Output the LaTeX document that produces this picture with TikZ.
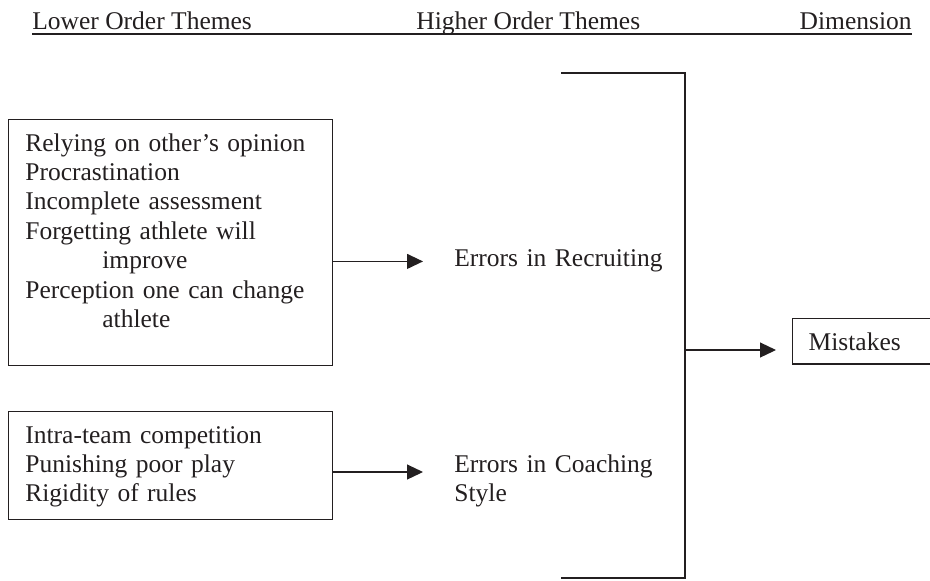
\documentclass[tikz,border=0pt]{standalone}
\usepackage{fontspec}
\setmainfont{Liberation Serif}
\usetikzlibrary{arrows.meta,positioning,calc}
\definecolor{ink}{HTML}{231F20}

\begin{document}
\begin{tikzpicture}[x=0.5pt,y=-0.5pt,
    every node/.style={font=\fontsize{12.75}{14.7}\selectfont, text=ink},
    themebox/.style={draw=ink, line width=0.7pt, inner sep=0pt, anchor=north west},
    listtext/.style={inner sep=0pt, text width=150pt, align=left, anchor=base west},
    higher/.style={inner ysep=0pt, inner xsep=7.5pt, text width=110pt, align=left, anchor=base west},
    heading/.style={inner xsep=0pt, inner ysep=2pt, anchor=base west},
    arr/.style={draw=ink, line width=0.6pt, -{Triangle[length=8pt,width=7.5pt]}, shorten >=8pt}]
    \useasboundingbox (0,0) rectangle (930,580);

    % column headings
    \node[heading] (lowhd) at (32,29) {Lower Order Themes};
    \node[heading] (highhd) at (416,29) {Higher Order Themes};
    \node[heading, anchor=base east] (dimhd) at (912,29) {Dimension};
    \draw[draw=ink, line width=1pt] (lowhd.south west) -- (dimhd.south east);

    % lower order themes
    \node[themebox, minimum width=162pt, minimum height=123pt] (recbox) at (8,119) {};
    \node[listtext] (rectext) at (25,151) {Relying on other’s opinion\\Procrastination\\Incomplete assessment\\Forgetting athlete will\\\hspace*{38.5pt}improve\\Perception one can change\\\hspace*{38.5pt}athlete};
    \node[themebox, minimum width=162pt, minimum height=54pt] (coachbox) at (8,411) {};
    \node[listtext] (coachtext) at (25,443) {Intra-team competition\\Punishing poor play\\Rigidity of rules};

    % higher order themes
    \node[higher] (recruit) at (439,266) {Errors in Recruiting};
    \node[higher] (coach) at (439,472) {Errors in Coaching\\Style};

    % dimension
    \node[draw=ink, line width=0.7pt, inner xsep=8pt, inner ysep=6.85pt, text width=58pt, align=left, anchor=base west] (mistakes) at (792,350) {Mistakes};

    \coordinate (bracket) at (685,73);
    \draw[draw=ink, line width=0.6pt] (bracket) ++(-124,0) -- (bracket) -- ++(0,505) -- ++(-124,0);

    \draw[arr] (recbox.east |- recruit.mid west) -- (recruit.mid west);
    \draw[arr] (coachbox.east |- coach.base west) -- (coach.base west);
    \draw[arr] (bracket |- mistakes.base west) -- (mistakes.base west);
\end{tikzpicture}
\end{document}
